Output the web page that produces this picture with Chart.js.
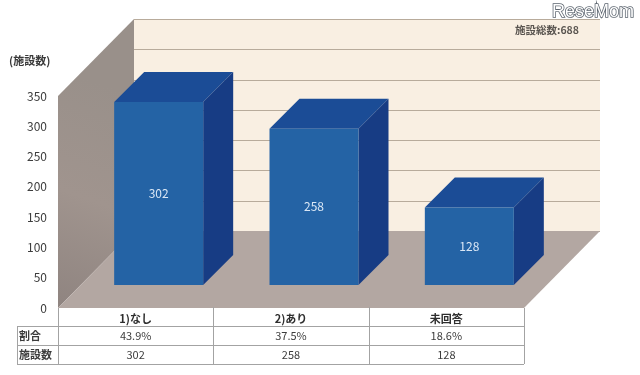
<!DOCTYPE html>
<html>
<head>
<meta charset="utf-8">
<style>
  html, body { margin: 0; padding: 0; background: #fff; }
  #wrap { width: 640px; height: 375px; position: relative; }
  canvas { display: block; }
</style>
<script src="https://cdn.jsdelivr.net/npm/chart.js@4"></script>
</head>
<body>
<div id="wrap"><canvas id="chart" width="640" height="375"></canvas></div>
<script>
const categories = ["1)なし", "2)あり", "未回答"];
const facilityCounts = [302, 258, 128];
const ratioLabels = ["43.9%", "37.5%", "18.6%"];
const countLabels = ["302", "258", "128"];
const rowTitles = ["割合", "施設数"];
const yTicks = [0, 50, 100, 150, 200, 250, 300, 350];

const FONT = '"Noto Sans CJK JP", "Noto Sans", sans-serif';
const wallDx = 76, wallDy = 77;   // front plane -> back wall
const barDx = 23, barDy = 23;     // front plane -> bar front face
const barDepth = 30;

function poly(ctx, pts, color) {
  ctx.fillStyle = color;
  ctx.beginPath();
  pts.forEach((p, i) => (i ? ctx.lineTo(p[0], p[1]) : ctx.moveTo(p[0], p[1])));
  ctx.closePath();
  ctx.fill();
}

// back wall, left wall and floor
const roomPlugin = {
  id: "room",
  beforeDatasetsDraw(chart) {
    const { ctx, chartArea: a, scales } = chart;
    const bx = wallDx, by = wallDy;
    ctx.save();
    poly(ctx, [[a.left + bx, a.top - by], [a.right + bx, a.top - by], [a.right + bx, a.bottom - by], [a.left + bx, a.bottom - by]], "#f9efe2");

    ctx.strokeStyle = "#b8ab9b";
    ctx.lineWidth = 1;
    yTicks.forEach((t) => {
      const y = Math.round(scales.y.getPixelForValue(t) - by) + 0.5;
      ctx.beginPath();
      ctx.moveTo(a.left + bx, y);
      ctx.lineTo(a.right + bx, y);
      ctx.stroke();
    });

    const wall = ctx.createLinearGradient(a.left, a.bottom, a.left + bx, a.top);
    wall.addColorStop(0, "#8f8480");
    wall.addColorStop(0.5, "#a0948e");
    wall.addColorStop(1, "#99908a");
    poly(ctx, [[a.left, a.top], [a.left + bx, a.top - by], [a.left + bx, a.bottom - by], [a.left, a.bottom]], wall);
    poly(ctx, [[a.left, a.bottom], [a.right, a.bottom], [a.right + bx, a.bottom - by], [a.left + bx, a.bottom - by]], "#b3a7a2");
    ctx.restore();
  },
};

// top and side faces, then shift the real bars onto their plane
const bar3dPlugin = {
  id: "bar3d",
  beforeDatasetsDraw(chart) {
    const { ctx } = chart;
    const d = barDepth;
    ctx.save();
    ctx.translate(barDx, -barDy);
    chart.getDatasetMeta(0).data.forEach((bar) => {
      const l = bar.x - bar.width / 2, r = bar.x + bar.width / 2;
      poly(ctx, [[l, bar.y], [l + d, bar.y - d], [r + d, bar.y - d], [r, bar.y]], "#1b4c96");
      poly(ctx, [[r, bar.y], [r + d, bar.y - d], [r + d, bar.base - d], [r, bar.base]], "#173c84");
    });
  },
  afterDatasetsDraw(chart) {
    const { ctx } = chart;
    ctx.fillStyle = "#dbe8f6";
    ctx.font = "12px " + FONT;
    ctx.textAlign = "center";
    ctx.textBaseline = "middle";
    chart.getDatasetMeta(0).data.forEach((bar, i) => {
      ctx.fillText(facilityCounts[i], bar.x, (bar.y + bar.base) / 2);
    });
    ctx.restore();
  },
};

// data table under the axis
const tablePlugin = {
  id: "dataTable",
  afterDraw(chart) {
    const { ctx, chartArea: a, scales } = chart;
    const rowY = [a.bottom, a.bottom + 18, a.bottom + 37, a.bottom + 56];
    const titleLeft = 17;
    const step = (a.right - a.left) / categories.length;
    ctx.save();
    ctx.strokeStyle = "#a3a3a3";
    ctx.lineWidth = 1;
    ctx.beginPath();
    for (let i = 1; i < rowY.length; i++) {
      ctx.moveTo(titleLeft, rowY[i] + 0.5);
      ctx.lineTo(a.right, rowY[i] + 0.5);
    }
    ctx.moveTo(titleLeft + 0.5, rowY[1]);
    ctx.lineTo(titleLeft + 0.5, rowY[3]);
    for (let i = 0; i <= categories.length; i++) {
      const x = Math.round(a.left + step * i) + 0.5;
      ctx.moveTo(x, i === 0 || i === categories.length ? a.bottom : a.bottom - 1);
      ctx.lineTo(x, rowY[3]);
    }
    ctx.stroke();

    ctx.textBaseline = "middle";
    ctx.fillStyle = "#3c3c3c";
    ctx.font = "11px " + FONT;
    ctx.textAlign = "center";
    categories.forEach((c, i) => {
      const x = scales.x.getPixelForTick(i);
      ctx.fillText(ratioLabels[i], x, (rowY[1] + rowY[2]) / 2);
      ctx.fillText(countLabels[i], x, (rowY[2] + rowY[3]) / 2);
    });
    ctx.font = "bold 11px " + FONT;
    ctx.textAlign = "left";
    ctx.fillText(rowTitles[0], 19, (rowY[1] + rowY[2]) / 2);
    ctx.fillText(rowTitles[1], 19, (rowY[2] + rowY[3]) / 2);

    // captions
    ctx.font = "bold 11px " + FONT;
    ctx.fillStyle = "#3a3a3a";
    ctx.fillText("(施設数)", 9, 61);
    ctx.fillStyle = "#5a5550";
    ctx.font = "bold 10.5px " + FONT;
    ctx.fillText("施設総数:688", 515, 30);

    // watermark
    ctx.font = '18px "Liberation Sans", sans-serif';
    ctx.strokeStyle = "#5d6670";
    ctx.lineWidth = 1.6;
    ctx.strokeText("ReseMom", 552, 12);
    ctx.fillStyle = "#ffffff";
    ctx.fillText("ReseMom", 552, 12);
    ctx.restore();
  },
};

new Chart(document.getElementById("chart"), {
  type: "bar",
  data: {
    labels: categories,
    datasets: [
      {
        label: "施設数",
        data: facilityCounts,
        backgroundColor: "#2463a5",
        borderWidth: 0,
        categoryPercentage: 1,
        barPercentage: 0.573,
      },
    ],
  },
  options: {
    responsive: false,
    animation: false,
    layout: { padding: { top: 96, right: 116, left: 0, bottom: 0 } },
    plugins: { legend: { display: false }, tooltip: { enabled: false } },
    scales: {
      x: {
        grid: { display: false, drawTicks: false },
        border: { display: false },
        ticks: {
          padding: 4,
          color: "#2e2e2e",
          font: { family: FONT, size: 11, weight: "bold" },
          maxRotation: 0,
        },
        afterFit(scale) {
          scale.height = 67;
        },
      },
      y: {
        min: 0,
        max: 350,
        afterBuildTicks(scale) {
          scale.ticks = yTicks.map((v) => ({ value: v }));
        },
        grid: { display: false, drawTicks: false },
        border: { display: false },
        ticks: {
          padding: 11,
          color: "#3c3c3c",
          font: { family: FONT, size: 12 },
        },
        afterFit(scale) {
          scale.width = 58;
        },
      },
    },
  },
  plugins: [roomPlugin, bar3dPlugin, tablePlugin],
});
</script>
</body>
</html>
